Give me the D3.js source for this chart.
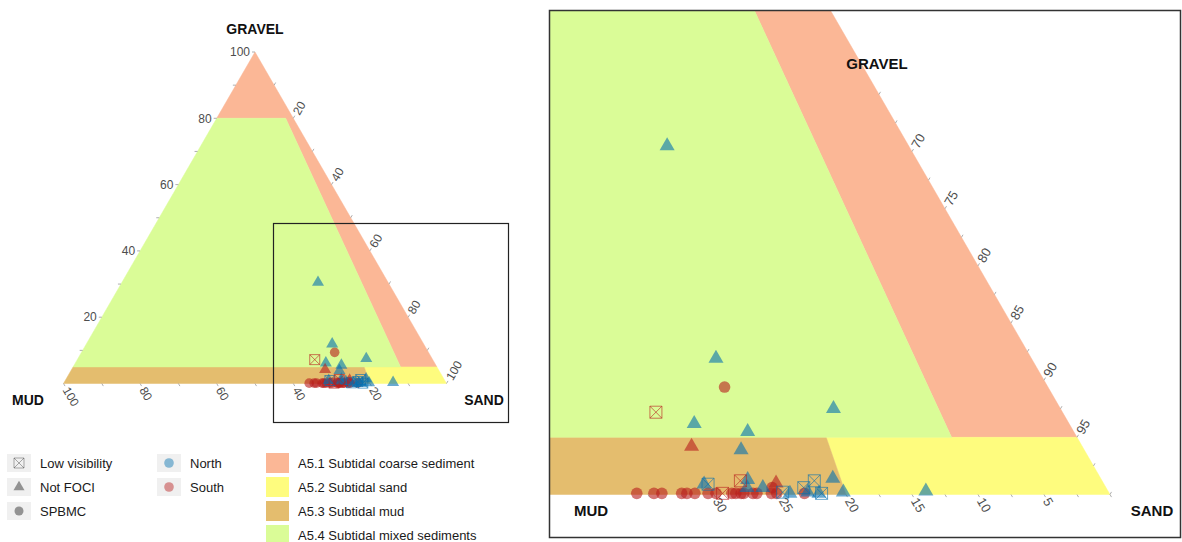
<!DOCTYPE html>
<html>
<head>
<meta charset="utf-8">
<script src="https://cdn.jsdelivr.net/npm/d3@7"></script>
<style>
  html, body { margin: 0; padding: 0; background: #fff; }
  svg text { font-family: "Liberation Sans", Arial, sans-serif; }
</style>
</head>
<body>
<svg id="chart" width="1182" height="542"></svg>
<script>
// Sediment samples: gravel % and mud % (sand is the remainder)
const sampleGravel = [0.1, 0.1, 0.1, 0.1, 0.1, 0.1, 0.1, 0.1, 0.1, 0.1, 0.1, 0.1, 0.1, 0.1, 0.1, 0.1, 0.1, 0.6, 9.4,
                      30.5, 11.9, 6.2, 5.5, 7.5, 4.2, 3.9, 1.4, 0.9, 1.3, 0.6, 0.6, 1.0, 0.1, 0.2, 0.2, 0.3, 0.1,
                      7.2, 0.9, 1.2, 0.6, 1.2, 0.1, 0.2, 0.1];
const sampleMud    = [35.8, 34.5, 33.9, 32.4, 32.0, 31.4, 30.4, 29.8, 28.6, 28.3, 27.9, 27.7, 27.0, 26.7, 25.6, 25.2, 23.1, 25.3, 24.5,
                      18.3, 23.9, 28.4, 24.7, 17.2, 29.6, 26.0, 20.3, 30.3, 26.8, 27.2, 26.0, 24.8, 24.2, 22.8, 20.1, 13.8, 22.0,
                      30.8, 30.0, 27.4, 22.9, 21.8, 21.8, 24.7, 29.3];
const sampleSurvey = ["SPBMC", "SPBMC", "SPBMC", "SPBMC", "SPBMC", "SPBMC", "SPBMC", "SPBMC", "SPBMC", "SPBMC", "SPBMC", "SPBMC", "SPBMC", "SPBMC", "SPBMC", "SPBMC", "SPBMC", "SPBMC", "SPBMC",
                      "Not FOCI", "Not FOCI", "Not FOCI", "Not FOCI", "Not FOCI", "Not FOCI", "Not FOCI", "Not FOCI", "Not FOCI", "Not FOCI", "Not FOCI", "Not FOCI", "Not FOCI", "Not FOCI", "Not FOCI", "Not FOCI", "Not FOCI", "Not FOCI",
                      "Low visibility", "Low visibility", "Low visibility", "Low visibility", "Low visibility", "Low visibility", "Low visibility", "Low visibility"];
const sampleArea   = ["South", "South", "South", "South", "South", "South", "South", "South", "South", "South", "South", "South", "South", "South", "South", "South", "South", "South", "South",
                      "North", "North", "North", "North", "North", "South", "North", "North", "North", "North", "North", "North", "South", "North", "North", "North", "North", "North",
                      "South", "North", "South", "North", "North", "North", "North", "South"];

// EUNIS habitat polygons as [gravel, mud] vertices
const habitatNames = ["A5.1 Subtidal coarse sediment", "A5.2 Subtidal sand", "A5.3 Subtidal mud", "A5.4 Subtidal mixed sediments"];
const habitatColors = ["#fbb796", "#fefc7e", "#e4bd6e", "#dafc97"];
const habitatVertices = [
  [[100, 0], [80, 20], [80, 2], [5, 9.5], [5, 0]],
  [[5, 19], [0, 20], [0, 0], [5, 0]],
  [[5, 95], [0, 100], [0, 20], [5, 19]],
  [[80, 20], [5, 95], [5, 9.5], [80, 2]]
];

const surveyTypes = ["Low visibility", "Not FOCI", "SPBMC"];
const areaTypes = ["North", "South"];
const areaColors = ["#0570b0", "#b81c1c"];

// Axis ticks
const overviewTicks = [10, 20, 30, 40, 50, 60, 70, 80, 90, 100];
const overviewLabels = [20, 40, 60, 80, 100];
const detailMudTicks = [0, 2.5, 5, 7.5, 10, 12.5, 15, 17.5, 20, 22.5, 25, 27.5, 30, 32.5, 35];
const detailMudLabels = [5, 10, 15, 20, 25, 30];
const detailSandTicks = [65, 67.5, 70, 72.5, 75, 77.5, 80, 82.5, 85, 87.5, 90, 92.5, 95, 97.5, 100];
const detailSandLabels = [70, 75, 80, 85, 90, 95];

const svg = d3.select("#chart");
const colorScale = d3.scaleOrdinal().domain(areaTypes).range(areaColors);
const fillScale = d3.scaleOrdinal().domain(habitatNames).range(habitatColors);

const samples = sampleGravel.map((g, i) => ({
  gravel: g, mud: sampleMud[i], sand: 100 - g - sampleMud[i],
  survey: sampleSurvey[i], area: sampleArea[i]
}));
// circles underneath, then triangles, then crossed squares
const drawOrder = { "SPBMC": 0, "Not FOCI": 1, "Low visibility": 2 };
samples.sort((a, b) => drawOrder[a.survey] - drawOrder[b.survey]);

// A ternary projection: horizontal position follows sand + gravel/2, vertical follows gravel
function makeTernary(x0, x1, yBase, yTop) {
  const hx = d3.scaleLinear().domain([0, 100]).range([x0, x1]);
  const vy = d3.scaleLinear().domain([0, 100]).range([yBase, yTop]);
  const proj = (g, m) => [hx(100 - m - g / 2), vy(g)];
  return { hx, vy, proj };
}

function drawRegions(g, tern) {
  const line = d3.line();
  g.selectAll("path.region")
    .data(habitatVertices)
    .join("path")
    .attr("class", "region")
    .attr("d", v => line(v.map(p => tern.proj(p[0], p[1]))) + "Z")
    .attr("fill", (v, i) => fillScale(habitatNames[i]))
    .attr("stroke", (v, i) => fillScale(habitatNames[i]))
    .attr("stroke-width", 0.5);
}

function drawPoints(g, tern, sz) {
  const alpha = 0.6;
  g.selectAll("g.pt")
    .data(samples)
    .join("g")
    .attr("class", "pt")
    .attr("transform", d => { const p = tern.proj(d.gravel, d.mud); return `translate(${p[0]},${p[1]})`; })
    .each(function (d) {
      const el = d3.select(this);
      const c = colorScale(d.area);
      if (d.survey === "SPBMC") {
        el.append("circle").attr("r", sz.r).attr("fill", c).attr("fill-opacity", alpha);
      } else if (d.survey === "Not FOCI") {
        el.append("path")
          .attr("d", d3.symbol(d3.symbolTriangle, sz.tri * sz.tri * Math.sqrt(3) / 4)())
          .attr("fill", c).attr("fill-opacity", alpha);
      } else {
        const h = sz.sq / 2;
        el.append("path")
          .attr("d", `M${-h},${-h}H${h}V${h}H${-h}Z M${-h},${-h}L${h},${h} M${h},${-h}L${-h},${h}`)
          .attr("fill", "none").attr("stroke", c).attr("stroke-opacity", alpha).attr("stroke-width", 1);
      }
    });
}

function drawTicks(g, ticks, labels, pos, dir, rot, fontSize, anchor) {
  const len = 3;
  g.selectAll(null).data(ticks).join("line")
    .attr("x1", t => pos(t)[0]).attr("y1", t => pos(t)[1])
    .attr("x2", t => pos(t)[0] + dir[0] * len).attr("y2", t => pos(t)[1] + dir[1] * len)
    .attr("stroke", "#9a9a9a").attr("stroke-width", 0.8);
  g.selectAll(null).data(labels).join("text")
    .attr("transform", t => {
      const p = pos(t);
      return `translate(${p[0] + dir[0] * 5},${p[1] + dir[1] * 5}) rotate(${rot})`;
    })
    .attr("text-anchor", anchor)
    .attr("dy", "0.35em")
    .attr("font-size", fontSize)
    .attr("fill", "#4d4d4d")
    .text(t => t);
}

const c60 = 0.5, s60 = Math.sqrt(3) / 2;

// ---------- Overview ternary ----------
const left = svg.append("g");
const ternL = makeTernary(63.5, 446.5, 383.5, 52);
drawRegions(left, ternL);

// gravel axis along left edge (mud + gravel = 100)
drawTicks(left, overviewTicks, overviewLabels, t => ternL.proj(t, 100 - t), [-1, 0], 0, 12, "end");
// sand axis along right edge (mud = 0)
drawTicks(left, overviewTicks, overviewLabels, t => ternL.proj(100 - t, 0), [c60, -s60], -60, 12, "start");
// mud axis along base (gravel = 0)
drawTicks(left, overviewTicks, overviewLabels, t => ternL.proj(0, t), [c60, s60], 60, 12, "start");

drawPoints(left, ternL, { r: 4.8, tri: 12, sq: 10 });

left.append("text").attr("x", 255).attr("y", 29).attr("dy", "0.35em").attr("text-anchor", "middle")
  .attr("font-size", 14).attr("font-weight", "bold").attr("fill", "#111").text("GRAVEL");
left.append("text").attr("x", 28).attr("y", 400).attr("dy", "0.35em").attr("text-anchor", "middle")
  .attr("font-size", 14).attr("font-weight", "bold").attr("fill", "#111").text("MUD");
left.append("text").attr("x", 484).attr("y", 400).attr("dy", "0.35em").attr("text-anchor", "middle")
  .attr("font-size", 14).attr("font-weight", "bold").attr("fill", "#111").text("SAND");

// inset outline
left.append("rect").attr("x", 273.5).attr("y", 223.5).attr("width", 235).attr("height", 199)
  .attr("fill", "none").attr("stroke", "#222").attr("stroke-width", 1.2);

// ---------- Detail ternary ----------
const frame = { x: 549.5, y: 10.5, w: 631, h: 527 };
svg.append("clipPath").attr("id", "detail-clip")
  .append("rect").attr("x", frame.x).attr("y", frame.y).attr("width", frame.w).attr("height", frame.h);
const right = svg.append("g").attr("clip-path", "url(#detail-clip)");
const ternR = makeTernary(-210, 1110, 494.5, 494.5 - 1143);
drawRegions(right, ternR);

drawTicks(right, detailSandTicks, detailSandLabels, t => ternR.proj(100 - t, 0), [c60, -s60], -60, 13, "start");
drawTicks(right, detailMudTicks, detailMudLabels, t => ternR.proj(0, t), [c60, s60], 60, 13, "start");

drawPoints(right, ternR, { r: 5.8, tri: 15, sq: 12 });

right.append("text").attr("x", 877).attr("y", 64).attr("dy", "0.35em").attr("text-anchor", "middle")
  .attr("font-size", 15).attr("font-weight", "bold").attr("fill", "#111").text("GRAVEL");
right.append("text").attr("x", 591).attr("y", 511).attr("dy", "0.35em").attr("text-anchor", "middle")
  .attr("font-size", 15).attr("font-weight", "bold").attr("fill", "#111").text("MUD");
right.append("text").attr("x", 1152).attr("y", 511).attr("dy", "0.35em").attr("text-anchor", "middle")
  .attr("font-size", 15).attr("font-weight", "bold").attr("fill", "#111").text("SAND");

svg.append("rect").attr("x", frame.x).attr("y", frame.y).attr("width", frame.w).attr("height", frame.h)
  .attr("fill", "none").attr("stroke", "#333").attr("stroke-width", 1.5);

// ---------- Legends ----------
const rowY = i => 463 + i * 24;
const legend = svg.append("g");

// survey (shape)
surveyTypes.forEach((s, i) => {
  const y = rowY(i);
  legend.append("rect").attr("x", 7).attr("y", y - 9).attr("width", 24).attr("height", 18).attr("fill", "#f0f0f0");
  const k = legend.append("g").attr("transform", `translate(19,${y})`);
  if (s === "SPBMC") {
    k.append("circle").attr("r", 4.5).attr("fill", "#333").attr("fill-opacity", 0.5);
  } else if (s === "Not FOCI") {
    k.append("path").attr("d", d3.symbol(d3.symbolTriangle, 11 * 11 * Math.sqrt(3) / 4)())
      .attr("fill", "#333").attr("fill-opacity", 0.5);
  } else {
    const h = 5;
    k.append("path").attr("d", `M${-h},${-h}H${h}V${h}H${-h}Z M${-h},${-h}L${h},${h} M${h},${-h}L${-h},${h}`)
      .attr("fill", "none").attr("stroke", "#333").attr("stroke-opacity", 0.5).attr("stroke-width", 0.8);
  }
  legend.append("text").attr("x", 40).attr("y", y).attr("dy", "0.35em").attr("font-size", 13)
    .attr("fill", "#1a1a1a").text(s);
});

// area (colour)
areaTypes.forEach((a, i) => {
  const y = rowY(i);
  legend.append("rect").attr("x", 157).attr("y", y - 9).attr("width", 24).attr("height", 18).attr("fill", "#f0f0f0");
  legend.append("circle").attr("cx", 169).attr("cy", y).attr("r", 4.8)
    .attr("fill", colorScale(a)).attr("fill-opacity", 0.45);
  legend.append("text").attr("x", 190).attr("y", y).attr("dy", "0.35em").attr("font-size", 13)
    .attr("fill", "#1a1a1a").text(a);
});

// habitat (fill)
habitatNames.forEach((h, i) => {
  const y = rowY(i);
  legend.append("rect").attr("x", 266).attr("y", y - 10).attr("width", 23).attr("height", 20).attr("fill", fillScale(h));
  legend.append("text").attr("x", 298).attr("y", y).attr("dy", "0.35em").attr("font-size", 13)
    .attr("fill", "#1a1a1a").text(h);
});
</script>
</body>
</html>
